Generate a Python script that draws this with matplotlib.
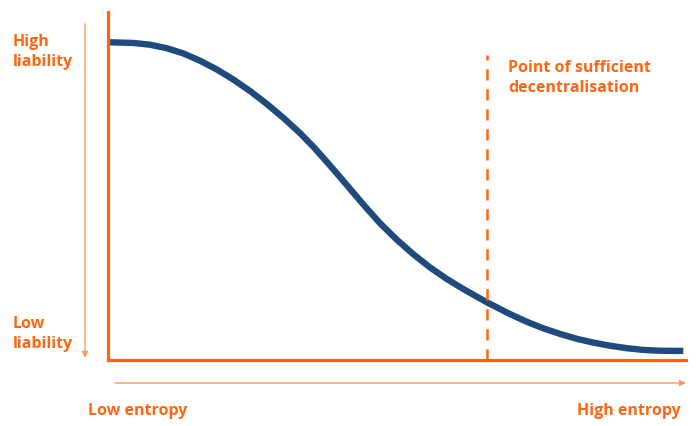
import numpy as np
import matplotlib.pyplot as plt

# curve (entropy 0-100, liability 0-100)
entropy = [0.35, 4.38, 7.27, 10.16, 13.03, 15.92, 18.81, 21.68, 24.57, 27.46,
           30.33, 33.22, 35.52, 38.41, 41.30, 44.17, 47.06, 49.95, 52.82, 55.71,
           58.60, 61.47, 65.52, 69.55, 72.44, 75.31, 78.20, 81.09, 83.96, 86.85,
           89.74, 92.61, 95.50, 99.53]
liability = [91.3, 91.1, 90.6, 89.6, 88.1, 86.0, 83.5, 80.6, 77.3, 73.6,
             69.6, 65.2, 61.3, 55.9, 50.3, 44.7, 39.3, 34.6, 30.4, 26.6,
             23.3, 20.4, 16.6, 13.2, 11.0, 9.1, 7.5, 6.1, 5.0, 4.1,
             3.4, 2.9, 2.65, 2.6]
sufficient_point = 65.6
dash_top = 87.6

y_labels = ["High\nliability", "Low\nliability"]
x_labels = ["Low entropy", "High entropy"]
point_label = "Point of sufficient\ndecentralisation"

orange = '#ff6611'
light_orange = '#ff9a5c'
blue = '#1f4a7e'

plt.rcParams['font.family'] = ['Open Sans', 'DejaVu Sans']

W, H = 700, 426
fig = plt.figure(figsize=(W / 100, H / 100), dpi=100)
ax = fig.add_axes([108 / W, 1 - 360 / H, 578 / W, 348 / H])

ax.plot(entropy, liability, color=blue, lw=4.6, solid_capstyle='butt',
        solid_joinstyle='round')
ax.axvline(sufficient_point, ymin=0, ymax=dash_top / 100, color=orange,
           lw=1.8, ls=(0, (4.5, 3.5)))

ax.set_xlim(0, 100)
ax.set_ylim(0, 100)
ax.set_xticks([])
ax.set_yticks([])
for side in ['top', 'right']:
    ax.spines[side].set_visible(False)
for side in ['left', 'bottom']:
    ax.spines[side].set_color(orange)
    ax.spines[side].set_linewidth(2.3)

# thin arrows
ax.annotate('', xy=(-0.0398, 0.006), xytext=(-0.0398, 0.966),
            xycoords='axes fraction',
            arrowprops=dict(arrowstyle='-|>', color=light_orange, lw=1.0,
                            mutation_scale=9, shrinkA=0, shrinkB=0))
ax.annotate('', xy=(1.0, -0.066), xytext=(0.012, -0.066),
            xycoords='axes fraction',
            arrowprops=dict(arrowstyle='-|>', color=light_orange, lw=1.0,
                            mutation_scale=9, shrinkA=0, shrinkB=0))

txt = dict(color=orange, fontsize=11.5, fontweight='bold', linespacing=1.3)
fig.text(13 / W, 1 - 52 / H, y_labels[0], ha='left', va='center', **txt)
fig.text(13 / W, 1 - 334 / H, y_labels[1], ha='left', va='center', **txt)
fig.text(88 / W, 1 - 411 / H, x_labels[0], ha='left', va='center', **txt)
fig.text(681 / W, 1 - 411 / H, x_labels[1], ha='right', va='center', **txt)
fig.text(508 / W, 1 - 78 / H, point_label, ha='left', va='center', **txt)

fig.savefig('out.png', dpi=100)
